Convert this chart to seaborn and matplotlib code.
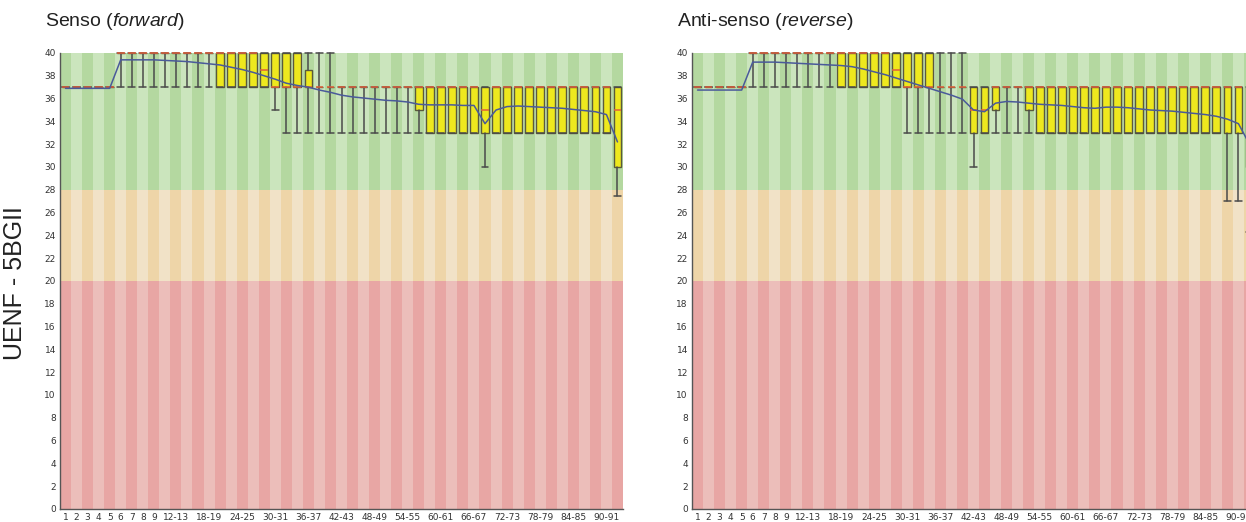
import numpy as np
import pandas as pd
import matplotlib
matplotlib.use("Agg")
import matplotlib.pyplot as plt
import seaborn as sns

#################### data ####################

# base position groups (x categories), same for both reads
categories = ['1', '2', '3', '4', '5', '6', '7', '8', '9', '10-11',
              '12-13', '14-15', '16-17', '18-19', '20-21', '22-23', '24-25', '26-27', '28-29', '30-31',
              '32-33', '34-35', '36-37', '38-39', '40-41', '42-43', '44-45', '46-47', '48-49', '50-51',
              '52-53', '54-55', '56-57', '58-59', '60-61', '62-63', '64-65', '66-67', '68-69', '70-71',
              '72-73', '74-75', '76-77', '78-79', '80-81', '82-83', '84-85', '86-87', '88-89', '90-91',
              '92-93']
shown_ticks = ['1', '2', '3', '4', '5', '6', '7', '8', '9', '12-13', '18-19', '24-25', '30-31',
               '36-37', '42-43', '48-49', '54-55', '60-61', '66-67', '72-73', '78-79', '84-85', '90-91']

# forward read (Senso)
fwd_p10 = [37, 37, 37, 37, 37, 37, 37, 37, 37, 37, 37, 37, 37, 37, 37, 37, 37, 37, 37, 35,
           33, 33, 33, 33, 33, 33, 33, 33, 33, 33, 33, 33, 33, 33, 33, 33, 33, 33, 30, 33,
           33, 33, 33, 33, 33, 33, 33, 33, 33, 33, 27.5]
fwd_q1 = [37, 37, 37, 37, 37, 40, 40, 40, 40, 40, 40, 40, 40, 40, 37, 37, 37, 37, 37, 37,
          37, 37, 37, 37, 37, 37, 37, 37, 37, 37, 37, 37, 35, 33, 33, 33, 33, 33, 33, 33,
          33, 33, 33, 33, 33, 33, 33, 33, 33, 33, 30]
fwd_med = [37, 37, 37, 37, 37, 40, 40, 40, 40, 40, 40, 40, 40, 40, 40, 40, 40, 40, 38.5, 37,
           37, 37, 37, 37, 37, 37, 37, 37, 37, 37, 37, 37, 37, 37, 37, 37, 37, 37, 35, 37,
           37, 37, 37, 37, 37, 37, 37, 37, 37, 37, 35]
fwd_q3 = [37, 37, 37, 37, 37, 40, 40, 40, 40, 40, 40, 40, 40, 40, 40, 40, 40, 40, 40, 40,
          40, 40, 38.5, 37, 37, 37, 37, 37, 37, 37, 37, 37, 37, 37, 37, 37, 37, 37, 37, 37,
          37, 37, 37, 37, 37, 37, 37, 37, 37, 37, 37]
fwd_p90 = [37, 37, 37, 37, 37, 40, 40, 40, 40, 40, 40, 40, 40, 40, 40, 40, 40, 40, 40, 40,
           40, 40, 40, 40, 40, 37, 37, 37, 37, 37, 37, 37, 37, 37, 37, 37, 37, 37, 37, 37,
           37, 37, 37, 37, 37, 37, 37, 37, 37, 37, 37]
fwd_mean = [36.9, 36.9, 36.9, 36.9, 36.9, 39.4, 39.4, 39.4, 39.4, 39.35, 39.3, 39.25, 39.15, 39.05,
            38.95, 38.75, 38.55, 38.3, 38.0, 37.7, 37.35, 37.15, 37.0, 36.75, 36.55, 36.3, 36.15,
            36.05, 35.95, 35.85, 35.8, 35.7, 35.5, 35.45, 35.45, 35.45, 35.4, 35.4, 33.8, 35.0,
            35.3, 35.35, 35.3, 35.25, 35.2, 35.15, 35.05, 34.95, 34.85, 34.6, 32.2]

# reverse read (Anti-senso)
rev_p10 = [37, 37, 37, 37, 37, 37, 37, 37, 37, 37, 37, 37, 37, 37, 37, 37, 37, 37, 37, 33,
           33, 33, 33, 33, 33, 30, 33, 33, 33, 33, 33, 33, 33, 33, 33, 33, 33, 33, 33, 33,
           33, 33, 33, 33, 33, 33, 33, 33, 27, 27, 24.3]
rev_q1 = [37, 37, 37, 37, 37, 40, 40, 40, 40, 40, 40, 40, 40, 37, 37, 37, 37, 37, 37, 37,
          37, 37, 37, 37, 37, 33, 33, 35, 37, 37, 35, 33, 33, 33, 33, 33, 33, 33, 33, 33,
          33, 33, 33, 33, 33, 33, 33, 33, 33, 33, 30]
rev_med = [37, 37, 37, 37, 37, 40, 40, 40, 40, 40, 40, 40, 40, 40, 40, 40, 40, 40, 38.5, 37,
           37, 37, 37, 37, 37, 35, 35, 37, 37, 37, 37, 37, 37, 37, 37, 37, 37, 37, 37, 37,
           37, 37, 37, 37, 37, 37, 37, 37, 37, 37, 35]
rev_q3 = [37, 37, 37, 37, 37, 40, 40, 40, 40, 40, 40, 40, 40, 40, 40, 40, 40, 40, 40, 40,
          40, 40, 37, 37, 37, 37, 37, 37, 37, 37, 37, 37, 37, 37, 37, 37, 37, 37, 37, 37,
          37, 37, 37, 37, 37, 37, 37, 37, 37, 37, 37]
rev_p90 = [37, 37, 37, 37, 37, 40, 40, 40, 40, 40, 40, 40, 40, 40, 40, 40, 40, 40, 40, 40,
           40, 40, 40, 40, 40, 37, 37, 37, 37, 37, 37, 37, 37, 37, 37, 37, 37, 37, 37, 37,
           37, 37, 37, 37, 37, 37, 37, 37, 37, 37, 37]
rev_mean = [36.75, 36.75, 36.75, 36.75, 36.75, 39.2, 39.2, 39.2, 39.15, 39.1, 39.05, 39.0, 38.95,
            38.9, 38.8, 38.6, 38.35, 38.1, 37.8, 37.5, 37.2, 36.9, 36.6, 36.3, 35.95, 35.0, 34.85,
            35.6, 35.75, 35.7, 35.6, 35.5, 35.45, 35.4, 35.3, 35.2, 35.15, 35.25, 35.25, 35.2,
            35.1, 35.0, 34.95, 34.9, 34.8, 34.7, 34.6, 34.45, 34.2, 33.8, 32.0]

# quality bands (lower, upper) -> colours dark/light
bands = [(0, 20, '#E8A6A4', '#ECBEBA'),
         (20, 28, '#EED5A8', '#F1E2C7'),
         (28, 40, '#B4D8A0', '#CBE5BD')]

#################### plot ####################

sns.set_theme(style="white")
plt.rcParams['font.family'] = ['Liberation Sans', 'DejaVu Sans']
plt.rcParams['mathtext.fontset'] = 'custom'
plt.rcParams['mathtext.rm'] = 'Liberation Sans'
plt.rcParams['mathtext.it'] = 'Liberation Sans:italic'

W, H = 1246, 522
fig = plt.figure(figsize=(W / 100, H / 100), dpi=100)
fig.patch.set_facecolor('white')

pos = np.arange(len(categories))


def draw_panel(ax, p10, q1, med, q3, p90, mean):
    # striped background
    for lo, hi, dark, light in bands:
        cols = [dark if i % 2 == 0 else light for i in pos]
        ax.bar(pos, hi - lo, bottom=lo, width=1.0, color=cols, linewidth=0, zorder=0)

    stats = [dict(whislo=a, q1=b, med=c, q3=d, whishi=e, fliers=[])
             for a, b, c, d, e in zip(p10, q1, med, q3, p90)]
    parts = ax.bxp(stats, positions=pos, widths=0.7, capwidths=0.62, patch_artist=True,
                   showfliers=False, manage_ticks=False,
                   boxprops=dict(facecolor='#EEE81E', edgecolor='#5A5A3C', linewidth=1.0),
                   whiskerprops=dict(color='#4A4A4A', linewidth=1.1),
                   capprops=dict(color='#4A4A4A', linewidth=1.1),
                   medianprops=dict(color='#E0603A', linewidth=1.1))
    # let the caps / medians sitting on 40 show fully
    for key in parts:
        for art in parts[key]:
            art.set_clip_on(False)

    df = pd.DataFrame({'pos': pos, 'mean': mean})
    sns.lineplot(data=df, x='pos', y='mean', ax=ax, color='#4A5A9A', linewidth=1.1, zorder=4)

    ax.set_xlim(-0.5, len(categories) - 0.5)
    ax.set_ylim(0, 40)
    ax.set_yticks(np.arange(0, 41, 2))
    ax.set_xticks([categories.index(t) for t in shown_ticks])
    ax.set_xticklabels(shown_ticks)
    ax.set_xlabel('')
    ax.set_ylabel('')
    ax.tick_params(axis='both', length=0, labelsize=6.5, colors='#333333')
    ax.tick_params(axis='y', pad=3)
    ax.tick_params(axis='x', pad=3)
    for lab in ax.get_xticklabels() + ax.get_yticklabels():
        lab.set_family('DejaVu Sans')
    for s in ['top', 'right']:
        ax.spines[s].set_visible(False)
    for s in ['left', 'bottom']:
        ax.spines[s].set_color('#555555')
        ax.spines[s].set_linewidth(1.0)
    ax.grid(False)


ax1 = fig.add_axes([60 / W, 13 / H, 563 / W, 456 / H])
draw_panel(ax1, fwd_p10, fwd_q1, fwd_med, fwd_q3, fwd_p90, fwd_mean)

ax2 = fig.add_axes([692 / W, 13 / H, 563 / W, 456 / H])
draw_panel(ax2, rev_p10, rev_q1, rev_med, rev_q3, rev_p90, rev_mean)

fig.text(45 / W, 1 - 22 / H, r'Senso ($\mathit{forward}$)', fontsize=14,
         color='#222222', ha='left', va='center')
fig.text(677 / W, 1 - 22 / H, r'Anti-senso ($\mathit{reverse}$)', fontsize=14,
         color='#222222', ha='left', va='center')
fig.text(15 / W, 1 - 283 / H, 'UENF - 5BGII', fontsize=18, rotation=90,
         color='#222222', ha='center', va='center')

fig.savefig('out.png', dpi=100)
